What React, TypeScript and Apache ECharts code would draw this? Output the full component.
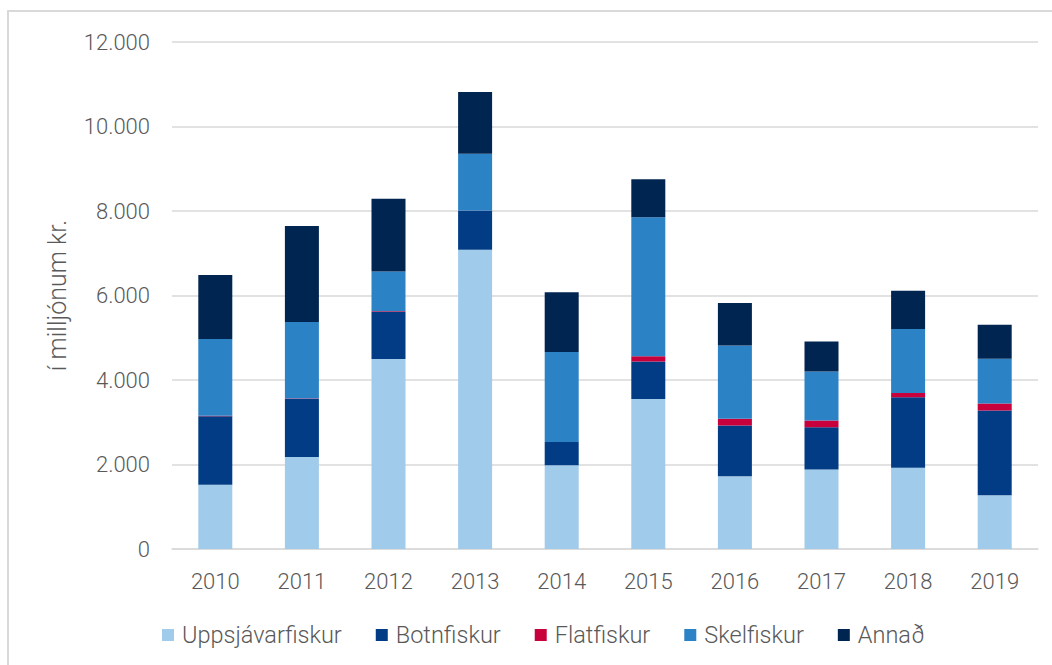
import React, { useEffect, useRef } from "react";
import * as echarts from "echarts";

const years = ["2010", "2011", "2012", "2013", "2014", "2015", "2016", "2017", "2018", "2019"];
const uppsjavarfiskur = [1520, 2180, 4500, 7080, 1980, 3550, 1720, 1880, 1925, 1270];
const botnfiskur = [1620, 1370, 1110, 920, 550, 890, 1205, 1000, 1665, 2010];
const flatfiskur = [15, 10, 15, 5, 5, 120, 160, 160, 100, 165];
const skelfiskur = [1815, 1815, 945, 1350, 2130, 3290, 1730, 1160, 1520, 1060];
const annad = [1515, 2270, 1720, 1460, 1410, 900, 1010, 710, 905, 805];

const seriesNames = ["Uppsjávarfiskur", "Botnfiskur", "Flatfiskur", "Skelfiskur", "Annað"];
const seriesColors = ["#A0CBEA", "#013C84", "#C8003C", "#2B82C4", "#002550"];
const seriesData = [uppsjavarfiskur, botnfiskur, flatfiskur, skelfiskur, annad];

const FONT = "Roboto, 'Noto Sans', sans-serif";
const GRAY = "#595959";

export default function App() {
  const ref = useRef<HTMLDivElement>(null);
  useEffect(() => {
    if (!ref.current) return;
    const chart = echarts.init(ref.current, undefined, { renderer: "svg" });
    chart.setOption({
      animation: false,
      backgroundColor: "#ffffff",
      grid: { left: 172, right: 14, top: 42, bottom: 116, containLabel: false },
      legend: {
        bottom: 13,
        left: 157,
        itemWidth: 12,
        itemHeight: 12,
        itemGap: 34,
        icon: "rect",
        textStyle: {
          color: GRAY,
          fontSize: 23.5,
          fontFamily: FONT,
          fontWeight: 300,
          padding: [0, 0, 0, 3],
        },
        data: seriesNames,
      },
      xAxis: {
        type: "category",
        data: years,
        axisLine: { show: true, lineStyle: { color: "#d9d9d9", width: 1.5 } },
        axisTick: { show: false },
        axisLabel: { color: GRAY, fontSize: 22, fontFamily: FONT, fontWeight: 300, margin: 21 },
      },
      yAxis: {
        type: "value",
        min: 0,
        max: 12000,
        interval: 2000,
        name: "í milljónum kr.",
        nameLocation: "middle",
        nameGap: 102,
        nameTextStyle: { color: GRAY, fontSize: 25, fontFamily: FONT, fontWeight: 300 },
        axisLine: { show: false },
        axisTick: { show: false },
        splitLine: { lineStyle: { color: "#d9d9d9", width: 1.5 } },
        axisLabel: {
          color: GRAY,
          fontSize: 22,
          fontFamily: FONT,
          fontWeight: 300,
          margin: 22,
          formatter: (v: number) => (v === 0 ? "0" : (v / 1000).toFixed(3)),
        },
      },
      graphic: [
        {
          type: "polyline",
          shape: { points: [[8, 665], [8, 11], [1052, 11]] },
          style: { stroke: "#d9d9d9", lineWidth: 2, fill: "none" },
          silent: true,
        },
      ],
      series: seriesNames.map((name, i) => ({
        name,
        type: "bar",
        stack: "total",
        barWidth: 34,
        data: seriesData[i],
        itemStyle: { color: seriesColors[i] },
      })),
    });
    return () => chart.dispose();
  }, []);
  return (
    <div
      ref={ref}
      style={{ position: "fixed", left: 0, top: 0, width: 1052, height: 665 }}
    />
  );
}
